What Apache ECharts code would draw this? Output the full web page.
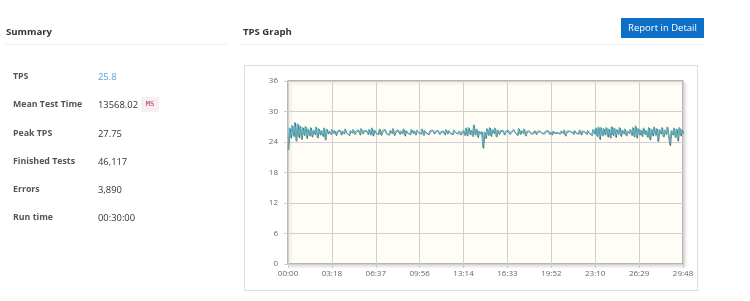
<!DOCTYPE html>
<html>
<head>
<meta charset="utf-8">
<script src="https://cdn.jsdelivr.net/npm/echarts@6/dist/echarts.min.js"></script>
<style>
  html, body { margin:0; padding:0; width:750px; height:301px; background:#fff; overflow:hidden; font-family:"Open Sans", Arial, sans-serif; }
  #chart { position:absolute; left:0; top:0; width:750px; height:301px; }
  .abs { position:absolute; white-space:nowrap; }
  .h { font-weight:bold; font-size:9.6px; color:#333; }
  .sep { position:absolute; height:1px; background:#f0f0f0; }
  .lbl { font-weight:bold; font-size:8.8px; color:#555; }
  .val { font-size:9.4px; color:#333; }
  .box { position:absolute; left:244px; top:65px; width:452px; height:224px; border:1px solid #ddd; }
  .btn { position:absolute; left:621px; top:18px; width:83px; height:20px; background:#0d6fc5; color:#fff; font-size:9.5px; line-height:20px; text-align:center; }
  .badge { position:absolute; left:141px; top:97px; width:18px; height:15px; background:#f6f0f3; color:#c7254e; font-family:"DejaVu Sans Mono", monospace; font-size:7px; line-height:15px; text-align:center; }
</style>
</head>
<body>
<div class="box"></div>
<div id="chart"></div>
<div class="abs h" style="left:6px;top:25px;">Summary</div>
<div class="sep" style="left:5px;top:44px;width:223px;"></div>
<div class="abs h" style="left:243px;top:25px;">TPS Graph</div>
<div class="sep" style="left:240px;top:44px;width:465px;"></div>
<div class="btn">Report in Detail</div>
<div id="summary"></div>
<script>
var summaryLabels = ["TPS", "Mean Test Time", "Peak TPS", "Finished Tests", "Errors", "Run time"];
var summaryValues = ["25.8", "13568.02", "27.75", "46,117", "3,890", "00:30:00"];
var totalSeconds = 1788;
var yTicks = [0, 6, 12, 18, 24, 30, 36];
var tpsValues = [
22.6, 26.8, 24.9, 27.3, 25.2, 27.9, 24.3, 27.6, 25.0, 27.2, 24.6, 26.9, 25.4, 27.1, 24.8, 26.6,
25.3, 26.9, 25.1, 26.4, 25.6, 27.0, 24.9, 26.7, 25.5, 26.3, 25.2, 26.8, 24.5, 26.6, 25.7,
26.2, 25.6, 26.5, 25.8, 26.3, 25.4, 26.1, 25.9, 26.4, 25.5, 26.2, 25.7, 26.6, 25.8, 26.0, 25.4, 26.3, 25.9, 26.5, 25.6, 26.1, 25.8, 26.4, 25.5, 26.7, 25.7, 26.2, 25.9, 26.3, 25.6,
26.5, 25.5, 26.8, 25.3, 26.4, 25.8, 26.1, 25.6, 26.6, 25.4, 26.2, 25.9, 26.5, 25.7, 26.0, 25.5, 26.3, 25.8, 26.7, 25.4, 26.1, 25.9, 26.4, 25.6, 26.2, 25.7, 26.6, 25.3, 26.3, 25.8,
26.0, 25.6, 26.5, 25.8, 26.2, 25.5, 26.4, 25.9, 26.1, 25.7, 26.6, 25.4, 26.3, 25.8, 26.0, 25.6, 26.2, 25.9, 26.4, 25.7, 26.1, 25.8, 26.3, 25.6, 26.0, 25.9, 26.2, 25.5, 26.5, 25.7,
26.3, 25.8, 26.1, 25.6, 26.4, 25.9, 26.0, 25.7, 26.2, 25.5,
25.8, 26.3, 25.4, 26.8, 25.3, 26.9, 25.6, 26.4, 25.2, 27.4, 25.5, 26.6, 25.0, 26.2, 25.7, 26.1, 22.9, 26.0, 24.8, 26.7,
25.4, 26.9, 25.2, 26.5, 25.8, 26.8, 25.1, 26.4, 25.6, 26.2, 25.9, 26.3, 25.5, 26.1, 25.8, 26.4, 25.6, 26.0, 25.7, 26.5, 25.9, 26.2, 25.4, 26.7, 25.6, 26.3, 25.8, 26.6, 25.3, 26.1,
25.9, 26.2, 25.7, 26.0, 25.8, 26.3, 25.6, 26.1, 25.9, 26.2, 25.8, 26.0, 25.7, 26.1, 25.9, 26.3, 25.6, 26.0, 25.5, 26.2, 25.8, 26.1, 25.9, 26.0, 25.7, 26.2, 25.8, 26.4, 25.3, 26.1,
25.8, 26.2, 25.9, 26.0, 25.6, 26.3, 25.8, 26.1, 25.7, 26.4, 25.5, 26.2, 25.9, 26.0, 25.6, 26.3, 25.8, 26.1, 25.4, 26.5, 25.7, 26.8, 25.2, 27.0, 24.6, 26.9, 25.3, 26.7, 25.5, 26.9,
25.1, 26.6, 24.9, 27.1, 25.4, 26.8, 25.0, 26.5, 25.6, 26.9, 25.2, 26.4, 25.7, 26.6, 25.3, 26.2, 25.8, 26.5, 25.4, 26.9, 25.1, 27.2, 24.9, 26.7, 25.5, 26.4, 25.2, 26.8, 25.6, 26.3,
25.0, 26.9, 24.5, 26.6, 25.3, 27.0, 25.4, 26.7, 24.2, 26.5, 25.7, 26.9, 25.1, 26.4, 25.6, 27.0, 25.2, 23.4, 26.3, 25.5, 26.8, 25.0, 26.6, 24.3, 26.9, 25.3, 26.5, 25.8
];

// summary panel
var rowsTop = [77, 105, 134, 162, 190, 218];
var html = "";
for (var i = 0; i < summaryLabels.length; i++) {
  var t = rowsTop[i] - 7;
  html += '<div class="abs lbl" style="left:13px;top:' + t + 'px;">' + summaryLabels[i] + '</div>';
  html += '<div class="abs val" style="left:98px;top:' + (t - 0.5) + 'px;' + (i === 0 ? 'color:#5ea3d3;' : '') + '">' + summaryValues[i] + '</div>';
}
html += '<div class="badge">MS</div>';
document.getElementById('summary').innerHTML = html;

var n = tpsValues.length;
var seriesData = tpsValues.map(function (v, i) { return [i * totalSeconds / (n - 1), v]; });

function fmt(v) {
  var s = Math.floor(v + 0.001);
  var m = Math.floor(s / 60), sec = s % 60;
  return (m < 10 ? '0' : '') + m + ':' + (sec < 10 ? '0' : '') + sec;
}

var chart = echarts.init(document.getElementById('chart'), null, { renderer: 'canvas' });
chart.setOption({
  animation: false,
  grid: {
    left: 288, right: 67, top: 81, bottom: 37,
    show: true, backgroundColor: '#fffdf6', borderColor: '#a0a0a0', borderWidth: 1.5,
    shadowColor: 'rgba(0,0,0,0.12)', shadowBlur: 3, shadowOffsetX: 2, shadowOffsetY: 2
  },
  xAxis: {
    type: 'value', min: 0, max: totalSeconds, interval: totalSeconds / 9,
    axisLine: { show: false },
    axisTick: { show: true, length: 4, lineStyle: { color: '#ccc' } },
    splitLine: { show: true, lineStyle: { color: '#d0d0d0', width: 1 } },
    axisLabel: { formatter: fmt, color: '#666', fontSize: 8, margin: 6, fontFamily: 'Open Sans', showMinLabel: true, showMaxLabel: true }
  },
  yAxis: {
    type: 'value', min: yTicks[0], max: yTicks[yTicks.length - 1], interval: 6,
    axisLine: { show: false },
    axisTick: { show: true, length: 4, lineStyle: { color: '#ccc' } },
    splitLine: { show: true, lineStyle: { color: '#d0d0d0', width: 1 } },
    axisLabel: { color: '#666', fontSize: 8, margin: 10, fontFamily: 'Open Sans' }
  },
  series: [{
    type: 'line', data: seriesData, showSymbol: false, symbol: 'none',
    lineStyle: { color: '#4bb2c5', width: 1, shadowColor: 'rgba(40,40,40,0.6)', shadowBlur: 0, shadowOffsetX: 0.8, shadowOffsetY: 0.8 },
    itemStyle: { color: '#4bb2c5' }
  }]
});
</script>
</body>
</html>
